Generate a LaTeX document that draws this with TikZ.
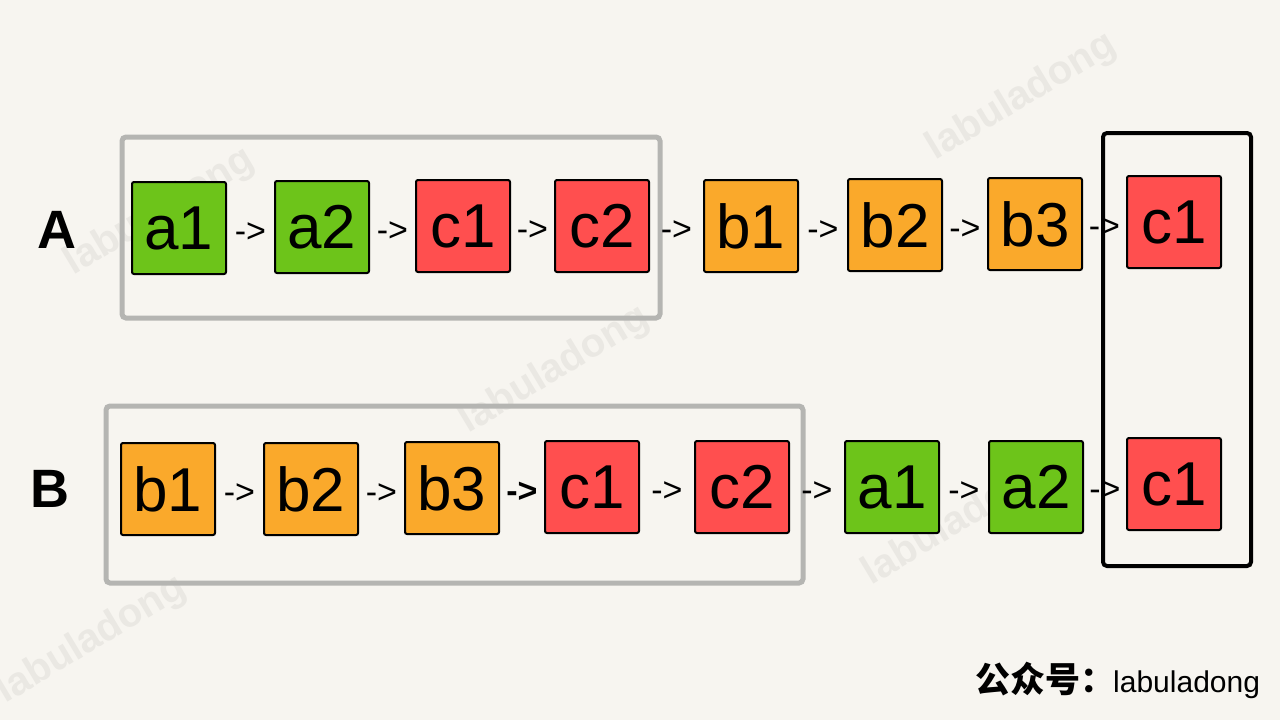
\documentclass[tikz,border=0pt]{standalone}
\usepackage{fontspec}
\setmainfont{Liberation Sans}
\newfontfamily\cjk{Noto Sans CJK SC}
\usetikzlibrary{positioning}
\definecolor{paper}{HTML}{F7F5F0}
\definecolor{cellgreen}{HTML}{6DC41A}
\definecolor{cellred}{HTML}{FF4F4F}
\definecolor{cellorange}{HTML}{FAA92B}
\definecolor{framegray}{HTML}{B5B5B2}
\definecolor{wmgray}{HTML}{EAE8E3}
\tikzset{
    cell/.style={
    rectangle,draw=black,line width=2pt,rounded corners=2pt,
    minimum width=94pt,minimum height=92pt,inner sep=0pt,
    font=\fontsize{62}{62}\selectfont
    },
    gcell/.style={
    cell,fill=cellgreen
    },
    rcell/.style={
    cell,fill=cellred
    },
    ocell/.style={
    cell,fill=cellorange
    },
    arr/.style={
    inner sep=0pt,yshift=-5pt,font=\fontsize{34}{34}\selectfont
    },
    rowname/.style={
    font=\bfseries\fontsize{54}{54}\selectfont
    },
    graybox/.style={
    draw=framegray,line width=5pt,rounded corners=4pt
    },
    blackbox/.style={
    draw=black,line width=4pt,rounded corners=4pt
    },
    wm/.style={
    text=wmgray,rotate=31,font=\bfseries\fontsize{40}{40}\selectfont
    },
}

\begin{document}
\begin{tikzpicture}[x=1pt, y=-1pt]
   \useasboundingbox (0,0) rectangle (1280,720);
   \fill[paper] (0,0) rectangle (1280,720);

   % watermarks
   \node[wm] (wm1) at (160,212) {labuladong};
   \node[wm] (wm2) at (555,370) {labuladong};
   \node[wm] (wm3) at (1022,97) {labuladong};
   \node[wm] (wm4) at (958,522) {labuladong};
   \node[wm] (wm5) at (92,640) {labuladong};

   % frames
   \draw[graybox] (122,137) rectangle (660,318);
   \draw[graybox] (106,406) rectangle (803,583);
   \draw[blackbox] (1103,133) rectangle (1251,566);

   % list A
   \node[rowname] (A) at (57,230) {A};
   \node[gcell] (Aa1) at (179,228) {a1};
   \node[gcell] (Aa2) at (322,227) {a2};
   \node[rcell] (Ac1) at (463,226) {c1};
   \node[rcell] (Ac2) at (602,226) {c2};
   \node[ocell] (Ab1) at (751,226) {b1};
   \node[ocell] (Ab2) at (895,225) {b2};
   \node[ocell] (Ab3) at (1035,224) {b3};
   \node[rcell] (Ae1) at (1174,222) {c1};

   % list B
   \node[rowname] (B) at (50,489) {B};
   \node[ocell] (Bb1) at (168,489) {b1};
   \node[ocell] (Bb2) at (311,489) {b2};
   \node[ocell] (Bb3) at (452,488) {b3};
   \node[rcell] (Bc1) at (592,487) {c1};
   \node[rcell] (Bc2) at (742,487) {c2};
   \node[gcell] (Ba1) at (892,487) {a1};
   \node[gcell] (Ba2) at (1036,487) {a2};
   \node[rcell] (Be1) at (1174,484) {c1};

   \path
    (Aa1) -- node[arr] {->} (Aa2)
    (Aa2) -- node[arr] {->} (Ac1)
    (Ac1) -- node[arr] {->} (Ac2)
    (Ac2) -- node[arr] {->} (Ab1)
    (Ab1) -- node[arr] {->} (Ab2)
    (Ab2) -- node[arr] {->} (Ab3)
    (Ab3) -- node[arr] {->} (Ae1);

   \path
    (Bb1) -- node[arr] {->} (Bb2)
    (Bb2) -- node[arr] {->} (Bb3)
    (Bb3) -- node[arr,font=\bfseries\fontsize{34}{34}\selectfont] {->} (Bc1)
    (Bc1) -- node[arr] {->} (Bc2)
    (Bc2) -- node[arr] {->} (Ba1)
    (Ba1) -- node[arr] {->} (Ba2)
    (Ba2) -- node[arr] {->} (Be1);

   % signature
   \node[anchor=base west,inner sep=0pt] (gzh) at (975,692) {\cjk\bfseries\fontsize{35}{35}\selectfont 公众号：};
   \node[anchor=base west,inner sep=0pt] (sig) at (1113,692) {\fontsize{30}{30}\selectfont labuladong};
\end{tikzpicture}
\end{document}
